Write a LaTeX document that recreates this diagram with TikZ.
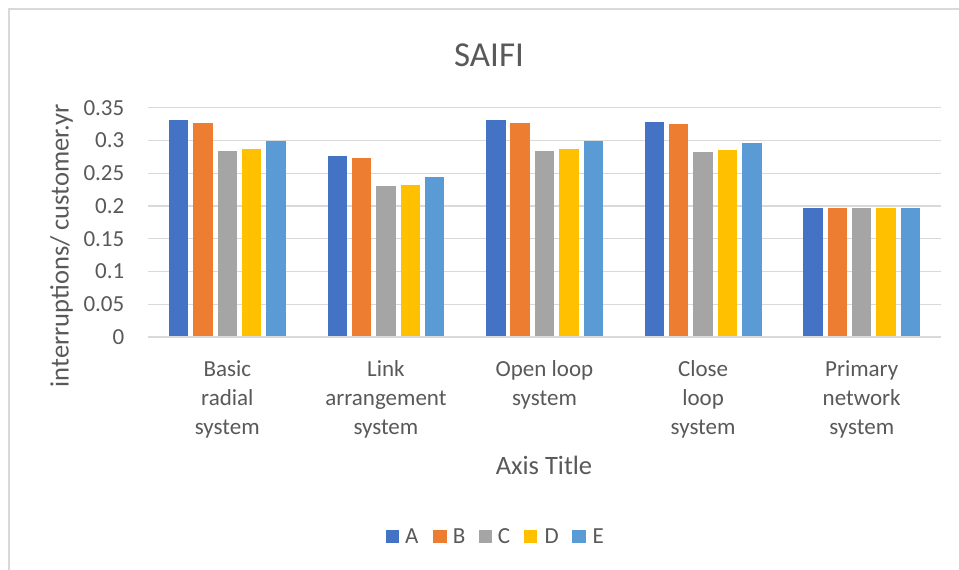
\documentclass[tikz,border=0pt]{standalone}
\usepackage{fontspec}
\setmainfont{Carlito}
\definecolor{cA}{HTML}{4472C4}
\definecolor{cB}{HTML}{ED7D31}
\definecolor{cC}{HTML}{A5A5A5}
\definecolor{cD}{HTML}{FFC000}
\definecolor{cE}{HTML}{5B9BD5}
\definecolor{txtgray}{HTML}{595959}
\definecolor{gridgray}{HTML}{D9D9D9}
\begin{document}
\begin{tikzpicture}[x=1pt,y=-1pt,
  txt/.style={text=txtgray, inner sep=0pt, font=\fontsize{23}{29}\selectfont},
  gridl/.style={draw=gridgray, line width=1.3pt},
  framel/.style={draw=gridgray, line width=1.6pt},
  legsq/.style={inner sep=0pt, minimum size=13.3pt, draw=none}]
\useasboundingbox (0,0) rectangle (959,570);
\fill[white] (0,0) rectangle (959,570);
\draw[framel] (9,570) -- (9,9) -- (959,9);
% gridlines
\foreach \k in {1,...,7} \draw[gridl] (148,{337-\k*32.76}) -- (941,{337-\k*32.76});
% tick labels
\foreach \k/\lab in {0/0,1/0.05,2/0.1,3/0.15,4/0.2,5/0.25,6/0.3,7/0.35}
  \node[txt, anchor=east] (t\k) at (124.5,{337-\k*32.76}) {\lab};
% bars
\foreach \g/\va/\vb/\vc/\vd/\ve in {0/.331/.327/.2845/.2875/.2998,
                                    1/.2758/.2727/.2305/.2325/.2443,
                                    2/.331/.327/.2845/.2875/.2998,
                                    3/.3288/.3252/.2824/.2855/.2967,
                                    4/.1975/.1975/.1975/.1975/.1975}{
  \foreach \i/\v/\c in {0/\va/cA,1/\vb/cB,2/\vc/cC,3/\vd/cD,4/\ve/cE}{
    \fill[\c] ({227.3+\g*158.6+(\i-2)*24.35-9.7},337) rectangle ({227.3+\g*158.6+(\i-2)*24.35+9.7},{337-\v*655.1});
  }
}
\draw[gridl] (148,337) -- (941,337);
% category labels
\node[txt, align=center, anchor=north] (c1) at (227.3,355.7) {\strut Basic\\\strut radial\\\strut system};
\node[txt, align=center, anchor=north] (c2) at (385.9,355.7) {\strut Link\\\strut arrangement\\\strut system};
\node[txt, align=center, anchor=north] (c3) at (544.5,355.7) {\strut Open loop\\\strut system};
\node[txt, align=center, anchor=north] (c4) at (703.1,355.7) {\strut Close\\\strut loop\\\strut system};
\node[txt, align=center, anchor=north] (c5) at (861.7,355.7) {\strut Primary\\\strut network\\\strut system};
% titles
\node[txt, font=\fontsize{35}{40}\selectfont, anchor=base] (title) at (489,66.5) {SAIFI};
\node[txt, font=\fontsize{26.5}{30}\selectfont, anchor=base] (xt) at (544,474) {Axis Title};
\node[txt, font=\fontsize{26.5}{30}\selectfont, anchor=base, rotate=90] (yt) at (68.5,246) {interruptions/ customer.yr};
% legend
\foreach \n/\sx/\lx/\c in {A/392.7/405/cA, B/440/452.7/cB, C/485.7/497.7/cC, D/530.7/544.3/cD, E/579/592.3/cE}{
  \node[legsq, fill=\c] (sq\n) at (\sx,536.7) {};
  \node[txt, anchor=base west] (lg\n) at (\lx,543.5) {\n};
}
\end{tikzpicture}
\end{document}
